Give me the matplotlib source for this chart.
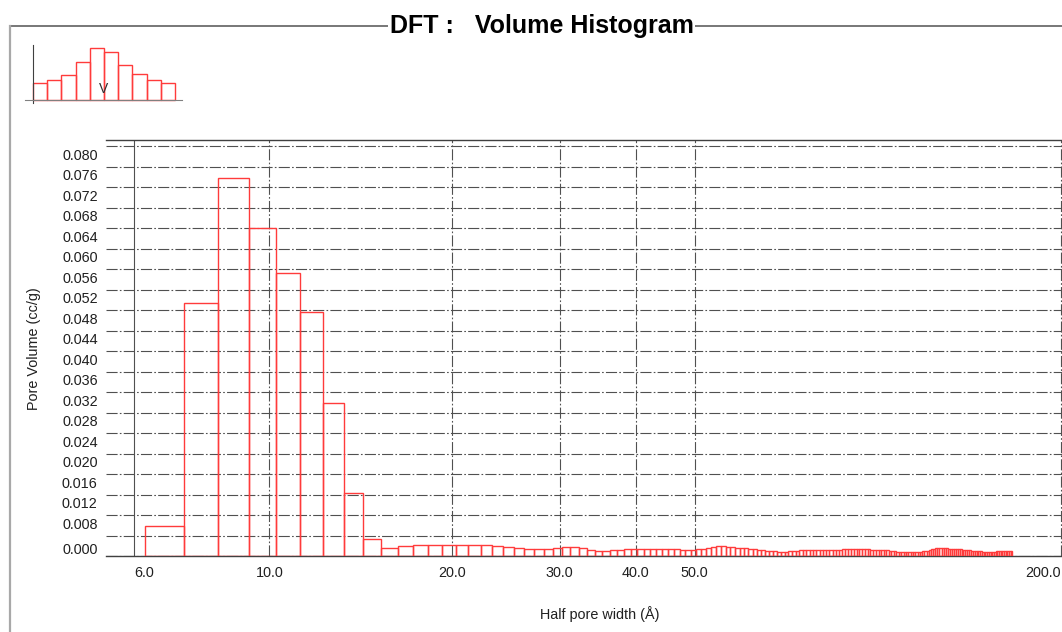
import numpy as np
import matplotlib
matplotlib.use("Agg")
import matplotlib.pyplot as plt
from matplotlib.lines import Line2D
from matplotlib.transforms import ScaledTranslation

plt.rcParams["font.family"] = ["Liberation Sans", "DejaVu Sans"]

# DFT pore volume per 1 Å bin of half pore width, first bin starts at 6.25 Å
bin_start = 6.25
bin_width = 1.0
pore_volume = [
    0.00585, 0.0494, 0.0738, 0.0640, 0.0552, 0.0476, 0.0300, 0.0123,   # 6.25 - 14.25
    0.0033, 0.0016, 0.0020, 0.0023, 0.0023, 0.0023, 0.0023, 0.0023,    # 14.25 - 22.25
    0.0023, 0.0021, 0.0018, 0.0016, 0.0014, 0.0014, 0.0015, 0.0016,    # 22.25 - 30.25
    0.0018, 0.0018, 0.0016, 0.0012, 0.0010, 0.0010, 0.0012, 0.0013,    # 30.25 - 38.25
    0.0014, 0.0014, 0.0014, 0.0014, 0.0014, 0.0015, 0.0015, 0.0014,    # 38.25 - 46.25
    0.0014, 0.0013, 0.0012, 0.0012, 0.0014, 0.0015, 0.0017, 0.0018,    # 46.25 - 54.25
    0.0020, 0.0020, 0.0019, 0.0018, 0.0017, 0.0016, 0.0016, 0.0015,    # 54.25 - 62.25
    0.0014, 0.0013, 0.0012, 0.0011, 0.0010, 0.0010, 0.0009, 0.0009,    # 62.25 - 70.25
    0.0009, 0.0010, 0.0010, 0.0011, 0.0012,                            # 70.25 - 75.25
    0.0012, 0.0012, 0.0012, 0.0013, 0.0012, 0.0012, 0.0012, 0.0012,    # 75.25 - 83.25
    0.0012, 0.0013, 0.0012, 0.0013,                                    # 83.25 - 87.25
    0.0014, 0.0014, 0.0015, 0.0014, 0.0014, 0.0014, 0.0015, 0.0014,    # 87.25 - 95.25
    0.0014, 0.0014, 0.0013, 0.0012, 0.0012, 0.0012,                    # 95.25 - 101.25
    0.0012, 0.0012, 0.0012, 0.0011, 0.0011, 0.0010,                    # 101.25 - 107.25
    0.0009, 0.0008, 0.0008, 0.0008, 0.0008, 0.0008, 0.0008, 0.0008,    # 107.25 - 115.25
    0.0009, 0.0009, 0.0009, 0.0010, 0.0011, 0.0011, 0.0012, 0.0014,    # 115.25 - 123.25
    0.0015, 0.0016, 0.0016, 0.0016, 0.0016, 0.0016, 0.0016, 0.0015,    # 123.25 - 131.25
    0.0015, 0.0014, 0.0014, 0.0014, 0.0014, 0.0014,                    # 131.25 - 137.25
    0.0013, 0.0012, 0.0012, 0.0012, 0.0012,                            # 137.25 - 142.25
    0.0011, 0.0010, 0.0010, 0.0010, 0.0010, 0.0010,                    # 142.25 - 148.25
    0.0009, 0.0009, 0.0009, 0.0009, 0.0009, 0.0009, 0.0009, 0.0009,    # 148.25 - 156.25
    0.0010, 0.0011, 0.0011, 0.0011, 0.0011, 0.0011, 0.0011, 0.0011,    # 156.25 - 164.25
    0.0011, 0.0011,                                                    # 164.25 - 166.25
]

x_ticks = [6.0, 10.0, 20.0, 30.0, 40.0, 50.0, 200.0]
y_ticks = [0.000, 0.004, 0.008, 0.012, 0.016, 0.020, 0.024, 0.028, 0.032, 0.036,
           0.040, 0.044, 0.048, 0.052, 0.056, 0.060, 0.064, 0.068, 0.072, 0.076, 0.080]

# little histogram icon in the corner
icon_heights = [17, 20, 25.5, 38, 52, 48.5, 35, 26, 20, 17]

RED = "#ff3b3b"
GRID = "#505050"

left_edges = bin_start + bin_width * np.arange(len(pore_volume))

fig = plt.figure(figsize=(10.62, 6.32), dpi=100)
W, H = 1062, 632

# main histogram axes (log x)
ax = fig.add_axes([106 / W, 1 - 556.3 / H, 992 / W, 416.3 / H])
ax.bar(left_edges, pore_volume, width=bin_width, align="edge",
       fill=False, edgecolor=RED, linewidth=1.0, zorder=3)
ax.set_xscale("log")
ax.set_xlim(5.392, 230)
ax.set_ylim(0, 0.08123)

ax.set_xticks(x_ticks)
ax.set_xticklabels([f"{v:.1f}" for v in x_ticks])
ax.xaxis.set_minor_locator(matplotlib.ticker.NullLocator())
ax.set_yticks(y_ticks)
ax.set_yticklabels(["" if abs(v - 0.004) < 1e-9 else f"{v:.3f}" for v in y_ticks])
ax.tick_params(axis="both", length=0, labelsize=10.4, colors="#202020")
ax.tick_params(axis="x", pad=7)
ax.tick_params(axis="y", pad=6)

ax.grid(True, which="major", color=GRID, linewidth=0.8,
        linestyle=(0, (10, 2, 1.5, 2)), zorder=1)
ax.xaxis.get_gridlines()[0].set_linestyle("-")

for side in ["left", "right"]:
    ax.spines[side].set_visible(False)
for side in ["top", "bottom"]:
    ax.spines[side].set_color("#404040")
    ax.spines[side].set_linewidth(1.0)

# y labels sit just under their grid line, the zero label just above the axis
down = ScaledTranslation(0, -0.08, fig.dpi_scale_trans)
up = ScaledTranslation(0, 0.08, fig.dpi_scale_trans)
for val, lab in zip(y_ticks, ax.get_yticklabels()):
    lab.set_transform(lab.get_transform() + (up if val == 0 else down))
xlabs = ax.get_xticklabels()
xlabs[0].set_horizontalalignment("left")
xlabs[-1].set_horizontalalignment("right")

ax.set_xlabel("Half pore width (Å)", fontsize=10.4, color="#202020")
ax.set_ylabel("Pore Volume (cc/g)", fontsize=10.4, color="#202020")
ax.xaxis.set_label_coords(0.498, -0.119)
ax.yaxis.set_label_coords(-0.066, 0.5)

# outer frame with the title sitting on its top edge
fig.add_artist(Line2D([10 / W, 1.0], [1 - 26 / H, 1 - 26 / H],
                      transform=fig.transFigure, color="#606060", linewidth=1.2))
fig.add_artist(Line2D([10 / W, 10 / W], [1 - 26 / H, 0.0],
                      transform=fig.transFigure, color="#a8a8a8", linewidth=1.6))
fig.text(541.5 / W, 1 - 26 / H, "DFT :   Volume Histogram", ha="center", va="center",
         fontsize=18, fontweight="bold", color="black",
         bbox=dict(facecolor="white", edgecolor="none", pad=1.0))

# corner icon
icon = fig.add_axes([25 / W, 1 - 103 / H, 157 / W, 58 / H])
icon.bar(range(len(icon_heights)), icon_heights, width=1.0, align="edge",
         fill=False, edgecolor=RED, linewidth=1.0)
icon.set_xlim(-0.56, 10.5)
icon.set_ylim(-3, 55)
icon.set_xticks([])
icon.set_yticks([])
icon.patch.set_alpha(0)
for side in ["top", "right"]:
    icon.spines[side].set_visible(False)
icon.spines["left"].set_position(("data", 0))
icon.spines["bottom"].set_position(("data", 0))
icon.spines["left"].set_color("#404040")
icon.spines["bottom"].set_color("#808080")
icon.text(5.0, 4, "V", ha="center", va="bottom", fontsize=10, color="#303030")

fig.savefig("out.png", dpi=100)
